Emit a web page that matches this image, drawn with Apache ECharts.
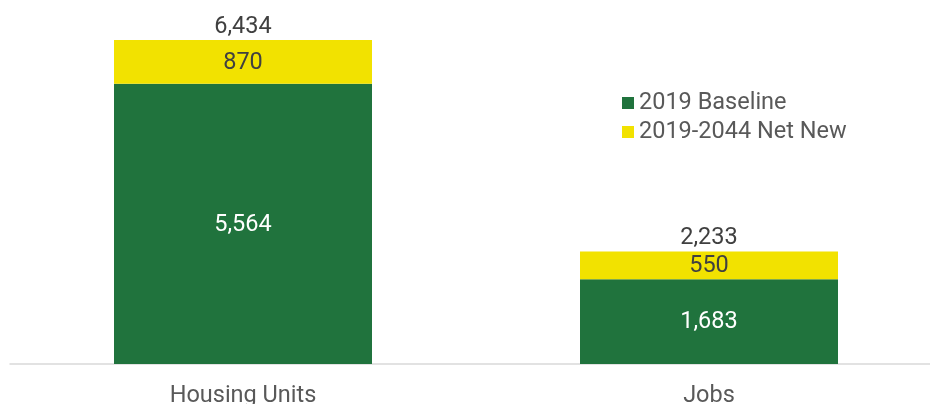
<!DOCTYPE html>
<html>
<head>
<meta charset="utf-8">
<script src="https://cdn.jsdelivr.net/npm/echarts@6/dist/echarts.min.js"></script>
<style>
  html, body { margin: 0; padding: 0; background: #ffffff; overflow: hidden; }
  #chart { width: 942px; height: 404px; }
</style>
</head>
<body>
<div id="chart"></div>
<script>
// Baseline counts and projected growth for each measure
const categories = ['Housing Units', 'Jobs'];
const baseline2019 = [5564, 1683];
const netNew = [870, 550];
const totals = baseline2019.map((v, i) => v + netNew[i]);

const fmt = v => v.toLocaleString('en-US');
const FONT = 'Roboto, "Noto Sans", sans-serif';
const FS = 23.5;

const chart = echarts.init(document.getElementById('chart'), null, { renderer: 'canvas' });
chart.setOption({
  animation: false,
  textStyle: { fontFamily: FONT },
  grid: { left: 10, top: 40, right: 0, bottom: 40, containLabel: false, outerBoundsMode: 'none' },
  legend: {
    orient: 'vertical',
    left: 622,
    top: 91,
    padding: 0,
    itemWidth: 12,
    itemHeight: 12,
    itemGap: 5,
    icon: 'rect',
    data: ['2019 Baseline', '2019-2044 Net New'],
    textStyle: { fontSize: FS, color: '#595959', fontFamily: FONT }
  },
  xAxis: {
    type: 'category',
    data: categories,
    axisLine: { show: true, lineStyle: { color: '#d9d9d9', width: 1.5 } },
    axisTick: { show: false },
    axisLabel: { fontSize: FS, color: '#595959', margin: 20, fontFamily: FONT }
  },
  yAxis: {
    type: 'value',
    min: 0,
    max: 6434,
    show: false,
    splitLine: { show: false }
  },
  series: [
    {
      name: '2019 Baseline',
      type: 'bar',
      stack: 'total',
      barWidth: 258,
      data: baseline2019,
      itemStyle: { color: '#20733d' },
      label: {
        show: true,
        position: 'inside',
        offset: [0, 1],
        color: '#ffffff',
        fontSize: FS,
        fontFamily: FONT,
        formatter: p => fmt(p.value)
      }
    },
    {
      name: '2019-2044 Net New',
      type: 'bar',
      stack: 'total',
      barWidth: 258,
      data: netNew,
      itemStyle: { color: '#f2e200' },
      label: {
        show: true,
        position: 'inside',
        offset: [0, 1],
        color: '#404040',
        fontSize: FS,
        fontFamily: FONT,
        formatter: p => fmt(p.value)
      }
    },
    {
      // invisible bars carrying the total labels above each stack
      name: 'Total',
      type: 'bar',
      barWidth: 258,
      barGap: '-100%',
      data: totals,
      itemStyle: { color: 'rgba(0,0,0,0)' },
      silent: true,
      z: 0,
      label: {
        show: true,
        position: 'top',
        distance: 1,
        color: '#404040',
        fontSize: FS,
        fontFamily: FONT,
        formatter: p => fmt(p.value)
      }
    }
  ]
});
</script>
</body>
</html>
